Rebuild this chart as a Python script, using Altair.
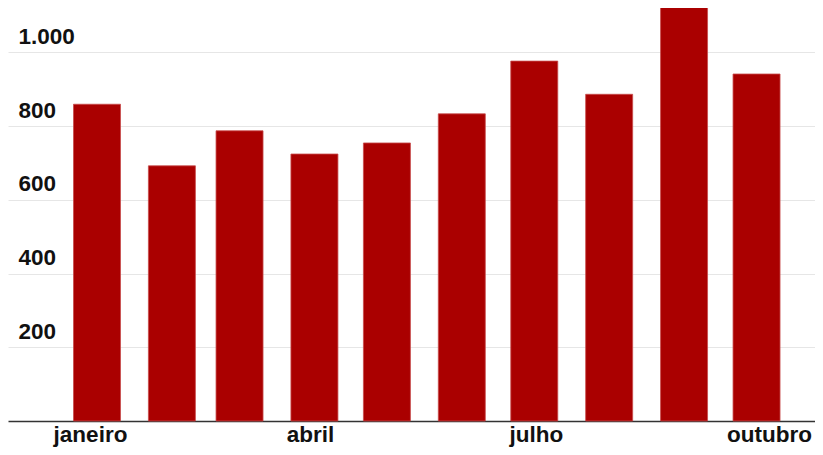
import altair as alt
import pandas as pd
from datetime import datetime, timezone, timedelta

months = ["janeiro", "fevereiro", "março", "abril", "maio", "junho",
          "julho", "agosto", "setembro", "outubro"]
dates = ["2023-01-01", "2023-02-01", "2023-03-01", "2023-04-01", "2023-05-01",
         "2023-06-01", "2023-07-01", "2023-08-01", "2023-09-01", "2023-10-01"]
values = [859, 692, 787, 724, 754, 833, 976, 886, 1133, 941]
y_ticks = [200, 400, 600, 800, 1000]
x_tick_months = ["2023-01-01", "2023-04-01", "2023-07-01", "2023-10-01"]

df = pd.DataFrame({"mes": months, "data": dates, "valor": values})

def ms(dt):
    return int(dt.timestamp() * 1000)

jan1 = datetime(2023, 1, 1, tzinfo=timezone.utc)
dom_min = ms(jan1 - timedelta(days=36.84))
dom_max = ms(jan1 + timedelta(days=297.2))
tick_vals = [ms(datetime.fromisoformat(d).replace(tzinfo=timezone.utc)) for d in x_tick_months]

names_js = "[" + ",".join("'" + m + "'" for m in months) + "]"

FONT = "Liberation Sans"
FS = 22.5

x_axis = alt.Axis(
    values=tick_vals,
    labelExpr=names_js + "[utcmonth(datum.value)]",
    title=None,
    grid=False,
    ticks=False,
    tickSize=0,
    domain=True,
    domainColor="#333333",
    domainWidth=1.5,
    labelFont=FONT,
    labelFontSize=FS,
    labelFontWeight="bold",
    labelColor="#111111",
    labelAlign="center",
    labelBaseline="alphabetic",
    labelPadding=20,
    labelOverlap=False,
    labelFlush=False,
    labelOffset={
        "condition": [
            {"test": "utcmonth(datum.value)==0", "value": -7},
            {"test": "utcmonth(datum.value)==3", "value": -4.5},
            {"test": "utcmonth(datum.value)==6", "value": 1.7},
        ],
        "value": 12.5,
    },
)

y_axis = alt.Axis(
    values=y_ticks,
    labelExpr="replace(format(datum.value, ','), ',', '.')",
    title=None,
    grid=True,
    gridColor="#e6e6e6",
    gridWidth=1,
    ticks=False,
    domain=False,
    labelFont=FONT,
    labelFontSize=FS,
    labelFontWeight="bold",
    labelColor="#111111",
    labelAlign="left",
    labelBaseline="alphabetic",
    labelPadding=-10,
    labelOffset=-9,
    labelOverlap=False,
    labelFlush=False,
)

chart = alt.Chart(df).mark_bar(
    width=47, color="#aa0000", stroke="#c84b4b", strokeWidth=0.8
).encode(
    x=alt.X("data:T",
            scale=alt.Scale(type="utc", domain=[dom_min, dom_max], padding=0, nice=False),
            axis=x_axis),
    y=alt.Y("valor:Q", scale=alt.Scale(domain=[0, 1120], nice=False, zero=True), axis=y_axis),
    tooltip=["mes", "valor"],
).properties(
    width=807,
    height=413,
    autosize=alt.AutoSizeParams(type="none"),
    padding={"left": 0, "top": 0, "right": 0, "bottom": 26},
    background="white",
).configure_view(stroke=None)

chart.save("out.html", embed_options={"renderer": "svg", "actions": False})
